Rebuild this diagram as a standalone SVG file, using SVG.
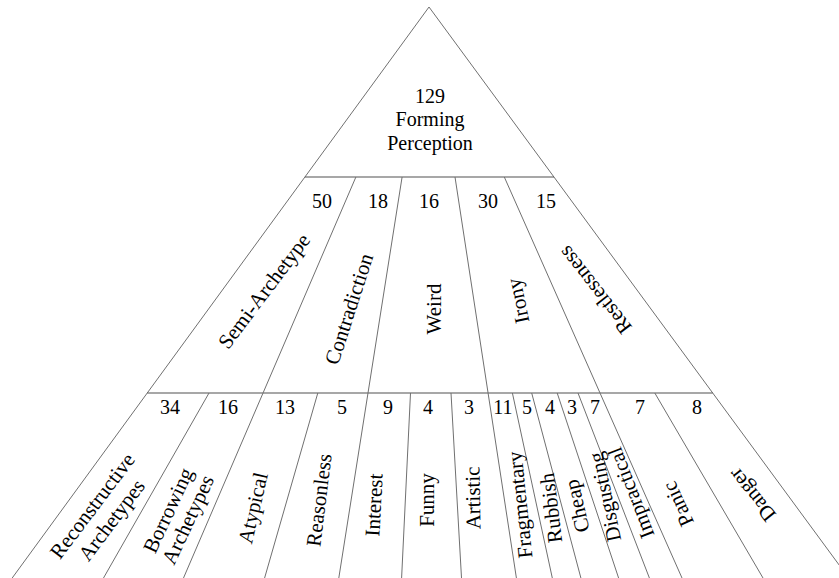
<svg xmlns="http://www.w3.org/2000/svg" width="839" height="578" viewBox="0 0 839 578" font-family="'Liberation Serif', 'DejaVu Serif', serif">
<style>
.ln{stroke:#707070;stroke-width:1;fill:none}
.hz{stroke:#505050;stroke-width:1.2;fill:none}
.t{font-family:'Liberation Serif','DejaVu Serif',serif;fill:#000}
.num{font-size:20px;text-anchor:middle}
.lab{font-size:21px;text-anchor:middle}
.top{font-size:20px;text-anchor:middle}
</style>
<rect width="839" height="578" fill="#fff"/>
<g id="connectors">
  <line class="ln" x1="429" y1="7" x2="12.2" y2="578"/>
  <line class="ln" x1="429" y1="7" x2="848.7" y2="578"/>
  <line class="hz" x1="304.9" y1="177" x2="554" y2="177"/>
  <line class="hz" x1="147.2" y1="393" x2="712.7" y2="393"/>
  <line class="ln" x1="355.9" y1="177" x2="183.5" y2="578"/>
  <line class="ln" x1="402.1" y1="177" x2="338.8" y2="578"/>
  <line class="ln" x1="455.0" y1="177" x2="516.4" y2="578"/>
  <line class="ln" x1="504.3" y1="177" x2="682.0" y2="578"/>
  <line class="ln" x1="209.0" y1="393" x2="103.5" y2="578"/>
  <line class="ln" x1="317.8" y1="393" x2="264.6" y2="578"/>
  <line class="ln" x1="410.5" y1="393" x2="401.6" y2="578"/>
  <line class="ln" x1="451.0" y1="393" x2="461.5" y2="578"/>
  <line class="ln" x1="512.4" y1="393" x2="552.3" y2="578"/>
  <line class="ln" x1="531.7" y1="393" x2="580.9" y2="578"/>
  <line class="ln" x1="557.2" y1="393" x2="618.6" y2="578"/>
  <line class="ln" x1="578.0" y1="393" x2="649.4" y2="578"/>
  <line class="ln" x1="654.8" y1="393" x2="763.0" y2="578"/>
</g>
<g id="forming-perception">
  <text class="t top" x="430" y="103">129</text>
  <text class="t top" x="430" y="126">Forming</text>
  <text class="t top" x="430" y="150">Perception</text>
</g>
<g id="semi-archetype">
  <text class="t num" x="322" y="208">50</text>
  <text class="t lab" transform="translate(264,291) rotate(-53)" y="7">Semi-Archetype</text>
</g>
<g id="contradiction">
  <text class="t num" x="378" y="208">18</text>
  <text class="t lab" transform="translate(349,309) rotate(-72)" y="7">Contradiction</text>
</g>
<g id="weird">
  <text class="t num" x="429" y="208">16</text>
  <text class="t lab" transform="translate(434,309) rotate(-90)" y="7">Weird</text>
</g>
<g id="irony">
  <text class="t num" x="488" y="208">30</text>
  <text class="t lab" transform="translate(518,301) rotate(-102)" y="7">Irony</text>
</g>
<g id="restlessness">
  <text class="t num" x="546" y="208">15</text>
  <text class="t lab" transform="translate(595,290) rotate(-128)" y="7">Restlessness</text>
</g>
<g id="reconstructive-archetypes">
  <text class="t num" x="170" y="414">34</text>
  <text class="t lab" transform="translate(102,513) rotate(-53)"><tspan x="0" y="-5">Reconstructive</tspan><tspan x="0" y="19">Archetypes</tspan></text>
</g>
<g id="borrowing-archetypes">
  <text class="t num" x="228" y="414">16</text>
  <text class="t lab" transform="translate(178,515) rotate(-65)"><tspan x="0" y="-4">Borrowing</tspan><tspan x="0" y="18">Archetypes</tspan></text>
</g>
<g id="atypical">
  <text class="t num" x="285" y="414">13</text>
  <text class="t lab" transform="translate(253,508) rotate(-77)" y="7">Atypical</text>
</g>
<g id="reasonless">
  <text class="t num" x="342" y="414">5</text>
  <text class="t lab" transform="translate(319,500) rotate(-83)" y="7">Reasonless</text>
</g>
<g id="interest">
  <text class="t num" x="388" y="414">9</text>
  <text class="t lab" transform="translate(374,505) rotate(-87)" y="7">Interest</text>
</g>
<g id="funny">
  <text class="t num" x="428" y="414">4</text>
  <text class="t lab" transform="translate(427,500) rotate(-90)" y="7">Funny</text>
</g>
<g id="artistic">
  <text class="t num" x="469" y="414">3</text>
  <text class="t lab" transform="translate(473,498) rotate(-91)" y="7">Artistic</text>
</g>
<g id="fragmentary">
  <text class="t num" x="503" y="414">11</text>
  <text class="t lab" transform="translate(520,505) rotate(-96)" y="7">Fragmentary</text>
</g>
<g id="rubbish">
  <text class="t num" x="527" y="414">5</text>
  <text class="t lab" transform="translate(551,508) rotate(-97)" y="7">Rubbish</text>
</g>
<g id="cheap">
  <text class="t num" x="550" y="414">4</text>
  <text class="t lab" transform="translate(577,506) rotate(-103)" y="7">Cheap</text>
</g>
<g id="disgusting">
  <text class="t num" x="572" y="414">3</text>
  <text class="t lab" transform="translate(605,497) rotate(-102)" y="7">Disgusting</text>
</g>
<g id="impractical">
  <text class="t num" x="595" y="414">7</text>
  <text class="t lab" transform="translate(631,493) rotate(-111)" y="7">Impractical</text>
</g>
<g id="panic">
  <text class="t num" x="640" y="414">7</text>
  <text class="t lab" transform="translate(678,504) rotate(-115)" y="7">Panic</text>
</g>
<g id="danger">
  <text class="t num" x="697" y="414">8</text>
  <text class="t lab" transform="translate(752,495) rotate(-129)" y="7">Danger</text>
</g>
</svg>
